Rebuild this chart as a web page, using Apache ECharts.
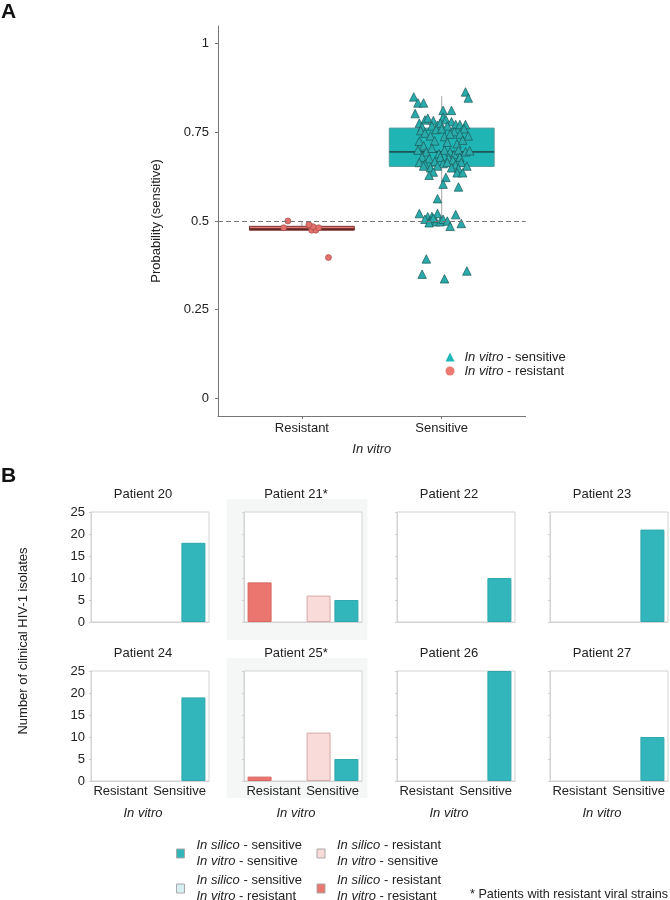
<!DOCTYPE html>
<html><head><meta charset="utf-8">
<script src="https://cdn.jsdelivr.net/npm/echarts@6/dist/echarts.min.js"></script>
<style>html,body{margin:0;padding:0;background:#fff}#c{width:670px;height:900px}</style>
</head><body><div id="c"></div>
<script>
// ---------- Panel A data ----------
const categoriesA = ['Resistant', 'Sensitive'];
const categoryPosA = [1, 2];
const yTicksA = [0, 0.25, 0.5, 0.75, 1];
const threshold = 0.5;
// box statistics [min, Q1, median, Q3, max]
const boxResistant = [0.474, 0.474, 0.477, 0.485, 0.497];
const boxSensitive = [0.494, 0.654, 0.695, 0.762, 0.852];
// jittered points [x (1 = Resistant, 2 = Sensitive), probability (sensitive)]
const pointsResistant = [
  [0.90, 0.500], [0.87, 0.481], [1.06, 0.485], [1.07, 0.474], [1.10, 0.474],
  [1.12, 0.481], [1.08, 0.484], [1.05, 0.490], [1.19, 0.397]
];
const pointsSensitive = [
  [2.17, 0.864], [2.19, 0.847], [1.80, 0.850], [1.83, 0.833], [1.87, 0.833], [1.81, 0.803],
  [2.01, 0.812], [2.07, 0.812], [2.01, 0.793],
  [1.84, 0.776], [1.88, 0.785], [1.90, 0.790], [1.94, 0.783], [1.97, 0.770], [1.99, 0.776],
  [2.03, 0.786], [2.07, 0.780], [2.10, 0.772], [2.13, 0.772], [2.17, 0.772], [1.86, 0.765],
  [1.93, 0.768], [2.04, 0.768], [1.85, 0.755], [1.96, 0.758], [2.00, 0.760], [2.09, 0.752],
  [2.16, 0.760], [2.13, 0.745], [1.88, 0.748], [1.92, 0.740], [2.02, 0.738], [2.06, 0.745],
  [2.19, 0.740],
  [1.84, 0.725], [1.87, 0.712], [1.95, 0.726], [2.04, 0.722], [2.11, 0.718], [2.15, 0.728],
  [1.83, 0.700], [1.89, 0.695], [1.93, 0.705], [1.98, 0.690], [2.02, 0.700], [2.06, 0.695],
  [2.09, 0.688], [2.12, 0.700], [2.17, 0.695], [2.20, 0.698], [1.86, 0.680], [1.91, 0.676],
  [1.99, 0.680], [2.05, 0.678], [2.08, 0.672], [2.13, 0.680], [1.84, 0.665], [1.88, 0.660],
  [1.95, 0.668], [2.01, 0.662], [2.04, 0.665], [2.10, 0.658], [2.14, 0.665], [2.18, 0.655],
  [1.87, 0.655], [1.92, 0.650], [2.07, 0.650], [2.12, 0.648], [1.97, 0.655],
  [1.94, 0.638], [1.91, 0.629], [2.11, 0.636], [2.15, 0.636], [2.03, 0.623], [2.01, 0.604],
  [2.12, 0.596], [1.97, 0.563],
  [1.84, 0.521], [2.10, 0.518], [1.90, 0.512], [1.93, 0.513], [1.97, 0.521], [1.88, 0.505],
  [1.92, 0.500], [1.96, 0.498], [1.99, 0.498], [2.01, 0.505], [2.04, 0.500], [1.94, 0.508],
  [2.06, 0.485], [2.14, 0.493], [1.91, 0.495],
  [1.86, 0.350], [1.89, 0.393], [2.02, 0.337], [2.18, 0.359]
];

// ---------- Panel B data ----------
const patients = ['Patient 20', 'Patient 21*', 'Patient 22', 'Patient 23',
                  'Patient 24', 'Patient 25*', 'Patient 26', 'Patient 27'];
const xCategoriesB = ['Resistant', 'Sensitive'];
const yMaxB = 25;
const yStepB = 5;
const silicoResVitroRes = [0, 9, 0, 0, 0, 1, 0, 0];
const silicoSenVitroRes = [0, 0, 0, 0, 0, 0, 0, 0];
const silicoResVitroSen = [0, 6, 0, 0, 0, 11, 0, 0];
const silicoSenVitroSen = [18, 5, 10, 21, 19, 5, 25, 10];
const highlighted = [false, true, false, false, false, true, false, false];

// ---------- styling / layout ----------
const FF = "'Liberation Sans', Arial, Helvetica, sans-serif";
const TXT = '#222';
const colLefts = [91, 244, 397, 550];
const rowTops = [512, 671];
const gW = 118, gH = 110;

const nameSS = 'In silico - sensitive / In vitro - sensitive';
const nameSR = 'In silico - sensitive / In vitro - resistant';
const nameRS = 'In silico - resistant / In vitro - sensitive';
const nameRR = 'In silico - resistant / In vitro - resistant';
const colTeal = '#33b6bb', colBlue = '#d5eef1', colPink = '#f9dbd9', colRed = '#ea766f';

const boxStyles = [
  {fill: '#e1756f', stroke: '#7e3431', median: '#5e2523', whisker: '#9a9a9a'},
  {fill: '#1fb5b5', stroke: '#5a9b9b', median: '#1d5656', whisker: '#a5a5a5'}
];
function renderBox(params, api) {
  const x = api.value(0);
  const s = boxStyles[params.dataIndex];
  const w = api.size([0.75, 0])[0];
  const pMin = api.coord([x, api.value(1)]);
  const pQ1 = api.coord([x, api.value(2)]);
  const pMed = api.coord([x, api.value(3)]);
  const pQ3 = api.coord([x, api.value(4)]);
  const pMax = api.coord([x, api.value(5)]);
  return {type: 'group', children: [
    {type: 'line', shape: {x1: pMin[0], y1: pMin[1], x2: pQ1[0], y2: pQ1[1]}, style: {stroke: s.whisker, lineWidth: 1}},
    {type: 'line', shape: {x1: pQ3[0], y1: pQ3[1], x2: pMax[0], y2: pMax[1]}, style: {stroke: s.whisker, lineWidth: 1}},
    {type: 'rect', shape: {x: pQ3[0] - w / 2, y: pQ3[1], width: w, height: pQ1[1] - pQ3[1]},
     style: {fill: s.fill, stroke: s.stroke, lineWidth: 1}},
    {type: 'line', shape: {x1: pMed[0] - w / 2, y1: pMed[1], x2: pMed[0] + w / 2, y2: pMed[1]},
     style: {stroke: s.median, lineWidth: 1.6}}
  ]};
}

const grid = [{left: 218, top: 26, width: 307.6, height: 390}];
const xAxis = [{
  gridIndex: 0, type: 'value', min: 0.4, max: 2.6,
  axisLine: {show: true, onZero: false, lineStyle: {color: '#777'}},
  axisTick: {show: true, customValues: categoryPosA, length: 3, lineStyle: {color: '#777'}},
  axisLabel: {customValues: categoryPosA, formatter: v => categoriesA[categoryPosA.indexOf(v)],
              fontSize: 13, color: TXT, margin: 6, fontFamily: FF},
  splitLine: {show: false},
  name: 'In vitro', nameLocation: 'middle', nameGap: 27,
  nameTextStyle: {fontStyle: 'italic', fontSize: 13, color: TXT, fontFamily: FF}
}];
const yAxis = [{
  gridIndex: 0, type: 'value', min: -0.05, max: 1.05,
  axisLine: {show: true, lineStyle: {color: '#777'}},
  axisTick: {show: true, customValues: yTicksA, length: 3, lineStyle: {color: '#777'}},
  axisLabel: {customValues: yTicksA, fontSize: 13, color: TXT, margin: 9, fontFamily: FF},
  splitLine: {show: false},
  name: 'Probability (sensitive)', nameLocation: 'middle', nameGap: 55, nameRotate: 90,
  nameTextStyle: {fontSize: 13, color: TXT, fontFamily: FF}
}];

const series = [
  {type: 'custom', name: 'box', xAxisIndex: 0, yAxisIndex: 0, renderItem: renderBox,
   encode: {x: 0, y: [1, 2, 3, 4, 5]}, z: 2, silent: true,
   data: [[categoryPosA[0], ...boxResistant], [categoryPosA[1], ...boxSensitive]]},
  {type: 'scatter', name: 'In vitro - resistant', xAxisIndex: 0, yAxisIndex: 0, z: 4,
   symbol: 'circle', symbolSize: 6,
   itemStyle: {color: '#e3716b', borderColor: '#9a4541', borderWidth: 0.6, opacity: 1},
   data: pointsResistant},
  {type: 'scatter', name: 'In vitro - sensitive', xAxisIndex: 0, yAxisIndex: 0, z: 4,
   symbol: 'triangle', symbolSize: 8.5,
   itemStyle: {color: '#2aabab', borderColor: '#1b5858', borderWidth: 0.7, opacity: 1},
   data: pointsSensitive,
   markLine: {silent: true, symbol: ['none', 'none'], label: {show: false},
              lineStyle: {type: [5, 3], color: '#777', width: 1.2},
              data: [{yAxis: threshold}]}}
];

const graphic = [
  {type: 'text', x: 1, y: 2, style: {text: 'A', font: 'bold 21px ' + FF, fill: '#111'}},
  {type: 'text', x: 1, y: 466, style: {text: 'B', font: 'bold 21px ' + FF, fill: '#111'}},
  {type: 'text', x: 23.5, y: 641, rotation: Math.PI / 2,
   style: {text: 'Number of clinical HIV-1 isolates', font: '13px ' + FF, fill: TXT,
           align: 'center', verticalAlign: 'middle', textAlign: 'center', textVerticalAlign: 'middle'}},
  {type: 'text', x: 470, y: 895,
   style: {text: '* Patients with resistant viral strains', font: '12.6px ' + FF, fill: TXT,
           verticalAlign: 'middle', textVerticalAlign: 'middle'}}
];

const itemWithBorder = (v, border) => ({value: v, itemStyle: {borderWidth: v > 0 ? 1 : 0, borderColor: border}});

patients.forEach((p, i) => {
  const row = Math.floor(i / 4), col = i % 4;
  const gi = i + 1;
  const left = colLefts[col], top = rowTops[row];
  grid.push({left: left, top: top, width: gW, height: gH, show: true,
             backgroundColor: '#fff', borderColor: '#d3d3d3', borderWidth: 1});
  xAxis.push({gridIndex: gi, type: 'category', data: xCategoriesB,
    axisLine: {show: true, lineStyle: {color: '#d3d3d3'}},
    axisTick: {show: false},
    axisLabel: {show: row === 1, interval: 0, fontSize: 13, color: TXT, margin: 4, fontFamily: FF}});
  yAxis.push({gridIndex: gi, type: 'value', min: 0, max: yMaxB, interval: yStepB,
    axisLine: {show: true, lineStyle: {color: '#d3d3d3'}},
    axisTick: {show: true, length: 2, lineStyle: {color: '#cfcfcf'}},
    axisLabel: {show: col === 0, fontSize: 13, color: TXT, margin: 6, fontFamily: FF},
    splitLine: {show: false}});
  const base = {type: 'bar', xAxisIndex: gi, yAxisIndex: gi, barWidth: 24, barGap: '16%', silent: true};
  series.push(Object.assign({}, base, {name: nameRR, stack: 'L' + i, itemStyle: {color: colRed},
    data: [itemWithBorder(silicoResVitroRes[i], '#d76760'), '-']}));
  series.push(Object.assign({}, base, {name: nameSR, stack: 'R' + i, itemStyle: {color: colBlue},
    data: [itemWithBorder(silicoSenVitroRes[i], '#a9c9cc'), '-']}));
  series.push(Object.assign({}, base, {name: nameRS, stack: 'L' + i, itemStyle: {color: colPink},
    data: ['-', itemWithBorder(silicoResVitroSen[i], '#d4aaa7')]}));
  series.push(Object.assign({}, base, {name: nameSS, stack: 'R' + i, itemStyle: {color: colTeal},
    data: ['-', itemWithBorder(silicoSenVitroSen[i], '#2ea8ad')]}));

  const cx = left + gW / 2 - 7;
  if (highlighted[i]) {
    graphic.push({type: 'rect', z: -10, shape: {x: left - 17.5, y: top - 13, width: 141, height: row === 0 ? 141 : 140},
                  style: {fill: '#f5f7f7'}});
  }
  graphic.push({type: 'text', x: cx, y: top - 18,
    style: {text: p, font: '13px ' + FF, fill: TXT, align: 'center', verticalAlign: 'middle',
            textAlign: 'center', textVerticalAlign: 'middle'}});
  if (row === 1) {
    graphic.push({type: 'text', x: cx, y: top + gH + 32,
      style: {text: 'In vitro', font: 'italic 13px ' + FF, fill: TXT, align: 'center', verticalAlign: 'middle',
              textAlign: 'center', textVerticalAlign: 'middle'}});
  }
});

function richName(name) {
  return name.split(' / ').map(part => part.replace(/^(In \w+)/, '{i|$1}')).join('\n');
}
const legendSwatch = c => ({icon: 'rect', itemStyle: {color: c, borderColor: '#a9a9a9', borderWidth: 1}});
const legendBText = {fontSize: 13, color: TXT, lineHeight: 15.5, fontFamily: FF,
  rich: {i: {fontStyle: 'italic', fontSize: 13, color: TXT, fontFamily: FF, lineHeight: 15.5, padding: [0, 0, 0, 7]}}};

const legend = [
  {orient: 'vertical', left: 445.5, top: 350, padding: 0, height: 40, itemWidth: 9, itemHeight: 9, itemGap: 0,
   selectedMode: false,
   data: [{name: 'In vitro - sensitive', icon: 'triangle', itemStyle: {color: '#20b8b8', borderWidth: 0}},
          {name: 'In vitro - resistant', icon: 'circle', itemStyle: {color: '#ef7a73', borderWidth: 0}}],
   formatter: n => '{i|In vitro}' + n.slice(8),
   textStyle: {fontSize: 13, color: TXT, lineHeight: 14, fontFamily: FF,
               rich: {i: {fontStyle: 'italic', fontSize: 13, color: TXT, fontFamily: FF, padding: [0, 0, 0, 5]}}}},
  {orient: 'vertical', left: 176, top: 838, padding: 0, height: 90, width: 135, itemWidth: 8, itemHeight: 9, itemGap: 4,
   selectedMode: false,
   data: [Object.assign({name: nameSS}, legendSwatch(colTeal)), Object.assign({name: nameSR}, legendSwatch(colBlue))],
   formatter: richName, textStyle: legendBText},
  {orient: 'vertical', left: 316.5, top: 838, padding: 0, height: 90, width: 135, itemWidth: 8, itemHeight: 9, itemGap: 4,
   selectedMode: false,
   data: [Object.assign({name: nameRS}, legendSwatch(colPink)), Object.assign({name: nameRR}, legendSwatch(colRed))],
   formatter: richName, textStyle: legendBText}
];

const chart = echarts.init(document.getElementById('c'), null, {renderer: 'canvas'});
chart.setOption({
  animation: false,
  backgroundColor: '#fff',
  textStyle: {fontFamily: FF},
  grid: grid, xAxis: xAxis, yAxis: yAxis, series: series, legend: legend, graphic: graphic
});
</script>
</body></html>
